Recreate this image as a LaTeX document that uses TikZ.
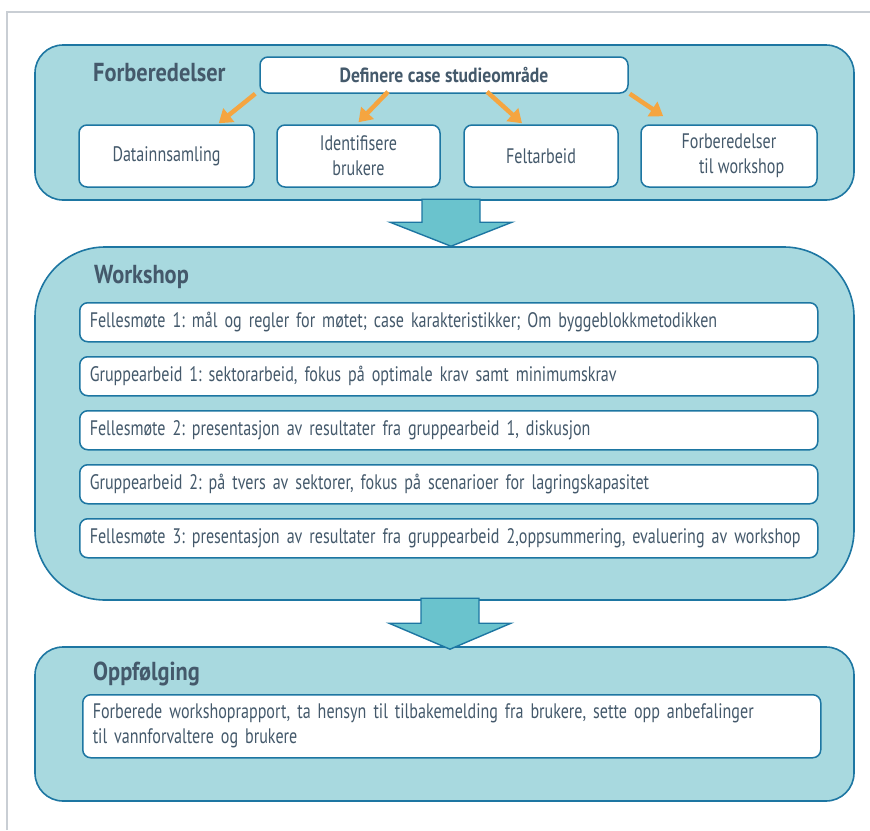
\documentclass[tikz,border=0pt]{standalone}
\usepackage{fontspec}
\setmainfont{PT Sans}[FakeStretch=0.765]
\newfontfamily\tittelfont{PT Sans}[FakeStretch=0.86]
\usepackage{xcolor}
\usetikzlibrary{calc}
\usetikzlibrary{arrows.meta}
\usetikzlibrary{positioning}
\frenchspacing

\definecolor{tekst}{HTML}{44596B}
\definecolor{kant}{HTML}{1D76A2}
\definecolor{lysblaa}{HTML}{A8D9DF}
\definecolor{pilblaa}{HTML}{6AC3CD}
\definecolor{oransje}{HTML}{F5A540}
\definecolor{ramme}{HTML}{C9CED4}

\newcommand{\brodtekst}{\fontsize{21}{25}\selectfont\spaceskip=4.5pt plus 1pt minus 1pt\relax}

\begin{document}
\begin{tikzpicture}[x=1pt,y=-1pt]

\tikzset{
    boks/.style = {
    draw=kant, line width=1.5pt, fill=white, rounded corners=8pt,
    text=tekst, inner sep=0pt
    }
}

\tikzstyle{panel}=[draw=kant, line width=1.6pt, fill=lysblaa, minimum width=819pt, inner sep=0pt]
\tikzstyle{tittel}=[anchor=base west, text=tekst, inner sep=0pt, font=\tittelfont\fontsize{26}{30}\selectfont\bfseries]
\tikzstyle{underboks}=[boks, minimum height=62pt, align=center, font=\brodtekst]
\tikzstyle{rad}=[boks, minimum height=39pt, text width=718pt, inner xsep=10pt, align=left, font=\brodtekst]
\tikzstyle{pil}=[draw=oransje, line width=4.5pt, -{Triangle[length=13pt,width=17pt]}]
\tikzstyle{blokkpil}=[draw=kant, line width=1.4pt, fill=pilblaa, line join=miter]

\useasboundingbox (0,0) rectangle (870,830);
\draw[ramme, line width=2pt] (7,830) -- (7,12) -- (870,12);

% paneler
\node (forb) [panel, rounded corners=28pt, minimum height=155pt] at (444.5,122.5) {};
\node (work) [panel, rounded corners=70pt, minimum height=353pt] at (444.5,423.5) {};
\node (opp)  [panel, rounded corners=28pt, minimum height=154pt] at (444.5,724) {};

\node (forb-tittel) [tittel] at (93,81) {Forberedelser};
\node (work-tittel) [tittel] at (94,283) {Workshop};
\node (opp-tittel)  [tittel] at (93,680) {Oppfølging};

% forberedelser
\node (def) [boks, minimum width=368pt, minimum height=36pt, font=\tittelfont\fontsize{20.5}{24}\selectfont\bfseries] at (444,75) {Definere case studieområde};

\node (data)  [underboks, minimum width=175pt] at (166.5,156) {Datainnsamling};
\node (ident) [underboks, minimum width=163pt] at (358.5,156) {Identifisere\\brukere};
\node (felt)  [underboks, minimum width=154pt] at (541,156) {Feltarbeid};
\node (fwork) [underboks, minimum width=176pt] at (729,156) {Forberedelser\\\hspace{1.2em}til workshop};

\draw[pil] ([xshift=-4pt]def.south west) -- ([xshift=-36pt,yshift=1pt]data.north east);
\draw[pil] ([xshift=-56pt,yshift=2pt]def.south) -- ([yshift=2pt]ident.north);
\draw[pil] ([xshift=43pt,yshift=2pt]def.south) -- ([xshift=-19pt,yshift=1pt]felt.north);
\draw[pil] ([xshift=1pt]def.south east) -- ([xshift=23pt,yshift=8pt]fwork.north west);

% workshop
\node (r1) [rad, anchor=north west] at (79,302) {Fellesmøte 1: mål og regler for møtet; case karakteristikker; Om byggeblokkmetodikken};
\node (r2) [rad, below=13.5pt of r1] {Gruppearbeid 1: sektorarbeid, fokus på optimale krav samt minimumskrav};
\node (r3) [rad, below=13.5pt of r2] {Fellesmøte 2: presentasjon av resultater fra gruppearbeid 1, diskusjon};
\node (r4) [rad, below=13.5pt of r3] {Gruppearbeid 2: på tvers av sektorer, fokus på scenarioer for lagringskapasitet};
\node (r5) [rad, below=13.5pt of r4] {Fellesmøte 3: presentasjon av resultater fra gruppearbeid 2,oppsummering, evaluering av workshop};

% oppfølging
\node (oppboks) [boks, anchor=north west, minimum height=63pt, text width=718pt, inner xsep=10pt, align=left, font=\brodtekst] at (82,694) {Forberede workshoprapport, ta hensyn til tilbakemelding fra brukere, sette opp anbefalinger\\til vannforvaltere og brukere};

% piler mellom paneler
\coordinate (p1) at ([xshift=6.5pt]work.north);
\coordinate (p2) at ([xshift=5.5pt,yshift=-3pt]opp.north);
\draw[blokkpil] ($(p1)+(-29,-47)$) -- ($(p1)+(-29,-24)$) -- ($(p1)+(-61,-24)$) -- (p1)
    -- ($(p1)+(61,-24)$) -- ($(p1)+(29,-24)$) -- ($(p1)+(29,-47)$) -- cycle;
\draw[blokkpil] ($(p2)+(-29,-51)$) -- ($(p2)+(-29,-26)$) -- ($(p2)+(-61,-26)$) -- (p2)
    -- ($(p2)+(61,-26)$) -- ($(p2)+(29,-26)$) -- ($(p2)+(29,-51)$) -- cycle;

\end{tikzpicture}
\end{document}
